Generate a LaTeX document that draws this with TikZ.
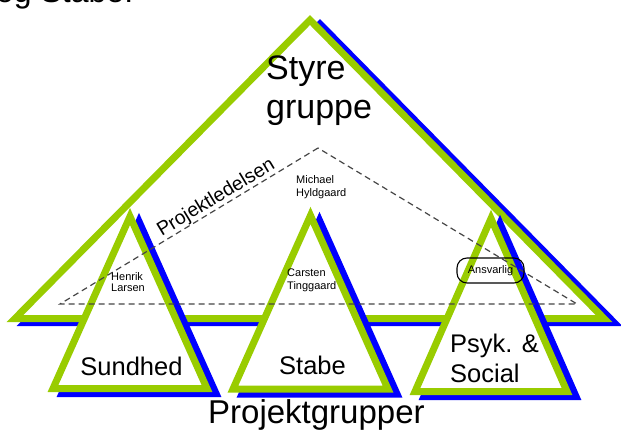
\documentclass[tikz,border=0pt]{standalone}
\usepackage{fontspec}
\setmainfont{Liberation Sans}
\definecolor{tgreen}{RGB}{153,204,0}
\definecolor{tblue}{RGB}{0,0,255}
\definecolor{dashgray}{RGB}{70,70,70}
\tikzset{
  frame/.style={draw=tgreen, line width=7pt, fill=white, line join=miter},
  shade/.style={draw=tblue, line width=7pt, line join=miter},
  lead/.style={draw=dashgray, line width=1.2pt, dash pattern=on 6pt off 4pt},
  small/.style={inner sep=0pt, font=\fontsize{11}{13}\selectfont, anchor=base west},
  big/.style={inner sep=0pt, font=\fontsize{25.5}{30}\selectfont},
  huge/.style={inner sep=0pt, font=\fontsize{34}{38}\selectfont, anchor=base west},
}
\begin{document}
\begin{tikzpicture}[x=1pt,y=-1pt]
\useasboundingbox (0,0) rectangle (621,430);
\clip (0,0) rectangle (621,430);

% heading line running off the top edge
\node[inner sep=0pt, anchor=base west, font=\fontsize{32}{36}\selectfont] (head) at (-4,3) {og Stabe.};

% steering group
\draw[shade, shift={(10,4)}] (310,20) -- (15,318.5) -- (604,318.5) -- cycle;
\draw[frame] (310,20) coordinate (sA) -- (15,318.5) coordinate (sB) -- (604,318.5) coordinate (sC) -- cycle;

% project groups
\draw[shade, shift={(9,5)}] (130,216.5) -- (53,388.5) -- (207,388.5) -- cycle;
\draw[frame] (130,216.5) coordinate (hA) -- (53,388.5) -- (207,388.5) -- cycle;

\draw[shade, shift={(9,5)}] (310.5,215.5) -- (233,389) -- (388,389) -- cycle;
\draw[frame] (310.5,215.5) coordinate (tA) -- (233,389) -- (388,389) -- cycle;

\draw[shade, shift={(9,5)}] (491,218.5) -- (415,391.5) -- (567,391.5) -- cycle;
\draw[frame] (491,218.5) coordinate (pA) -- (415,391.5) -- (567,391.5) -- cycle;

% project management
\coordinate (lA) at (318,148);
\coordinate (lB) at (60,304);
\coordinate (lC) at (577,304);
\draw[lead] (lA) -- (lB) -- (lC) -- cycle;
\path (lB) -- (lA) node[pos=0.625, sloped, above, inner sep=0pt, yshift=0.5pt,
      font=\fontsize{19.5}{21}\selectfont] (pl) {Projektledelsen};

% labels
\node[huge] (sty1) at (266,80) {Styre};
\node[huge] (sty2) at (266,119) {gruppe};

\node[small] (mh1) at (296,184) {Michael};
\node[small] (mh2) at (296,197) {Hyldgaard};
\node[small] (hl1) at (111,280) {Henrik};
\node[small] (hl2) at (111,292) {Larsen};
\node[small] (ct1) at (287,277) {Carsten};
\node[small] (ct2) at (287,290) {Tinggaard};
\node[draw=black, line width=1.1pt, rounded corners=10pt, minimum width=67pt,
      minimum height=25pt, inner sep=0pt, font=\fontsize{11}{13}\selectfont]
      (ans) at (490.5,270.5) {Ansvarlig};

\node[big, anchor=base] (g1) at (131.5,375) {Sundhed};
\node[big, anchor=base] (g2) at (312.5,374) {Stabe};
\node[big, anchor=base west] (g3a) at (450,352) {Psyk. \&};
\node[big, anchor=base west] (g3b) at (450,382) {Social};

\node[inner sep=0pt, anchor=base west, font=\fontsize{33}{36}\selectfont] (pg) at (208,423) {Projektgrupper};
\end{tikzpicture}
\end{document}
